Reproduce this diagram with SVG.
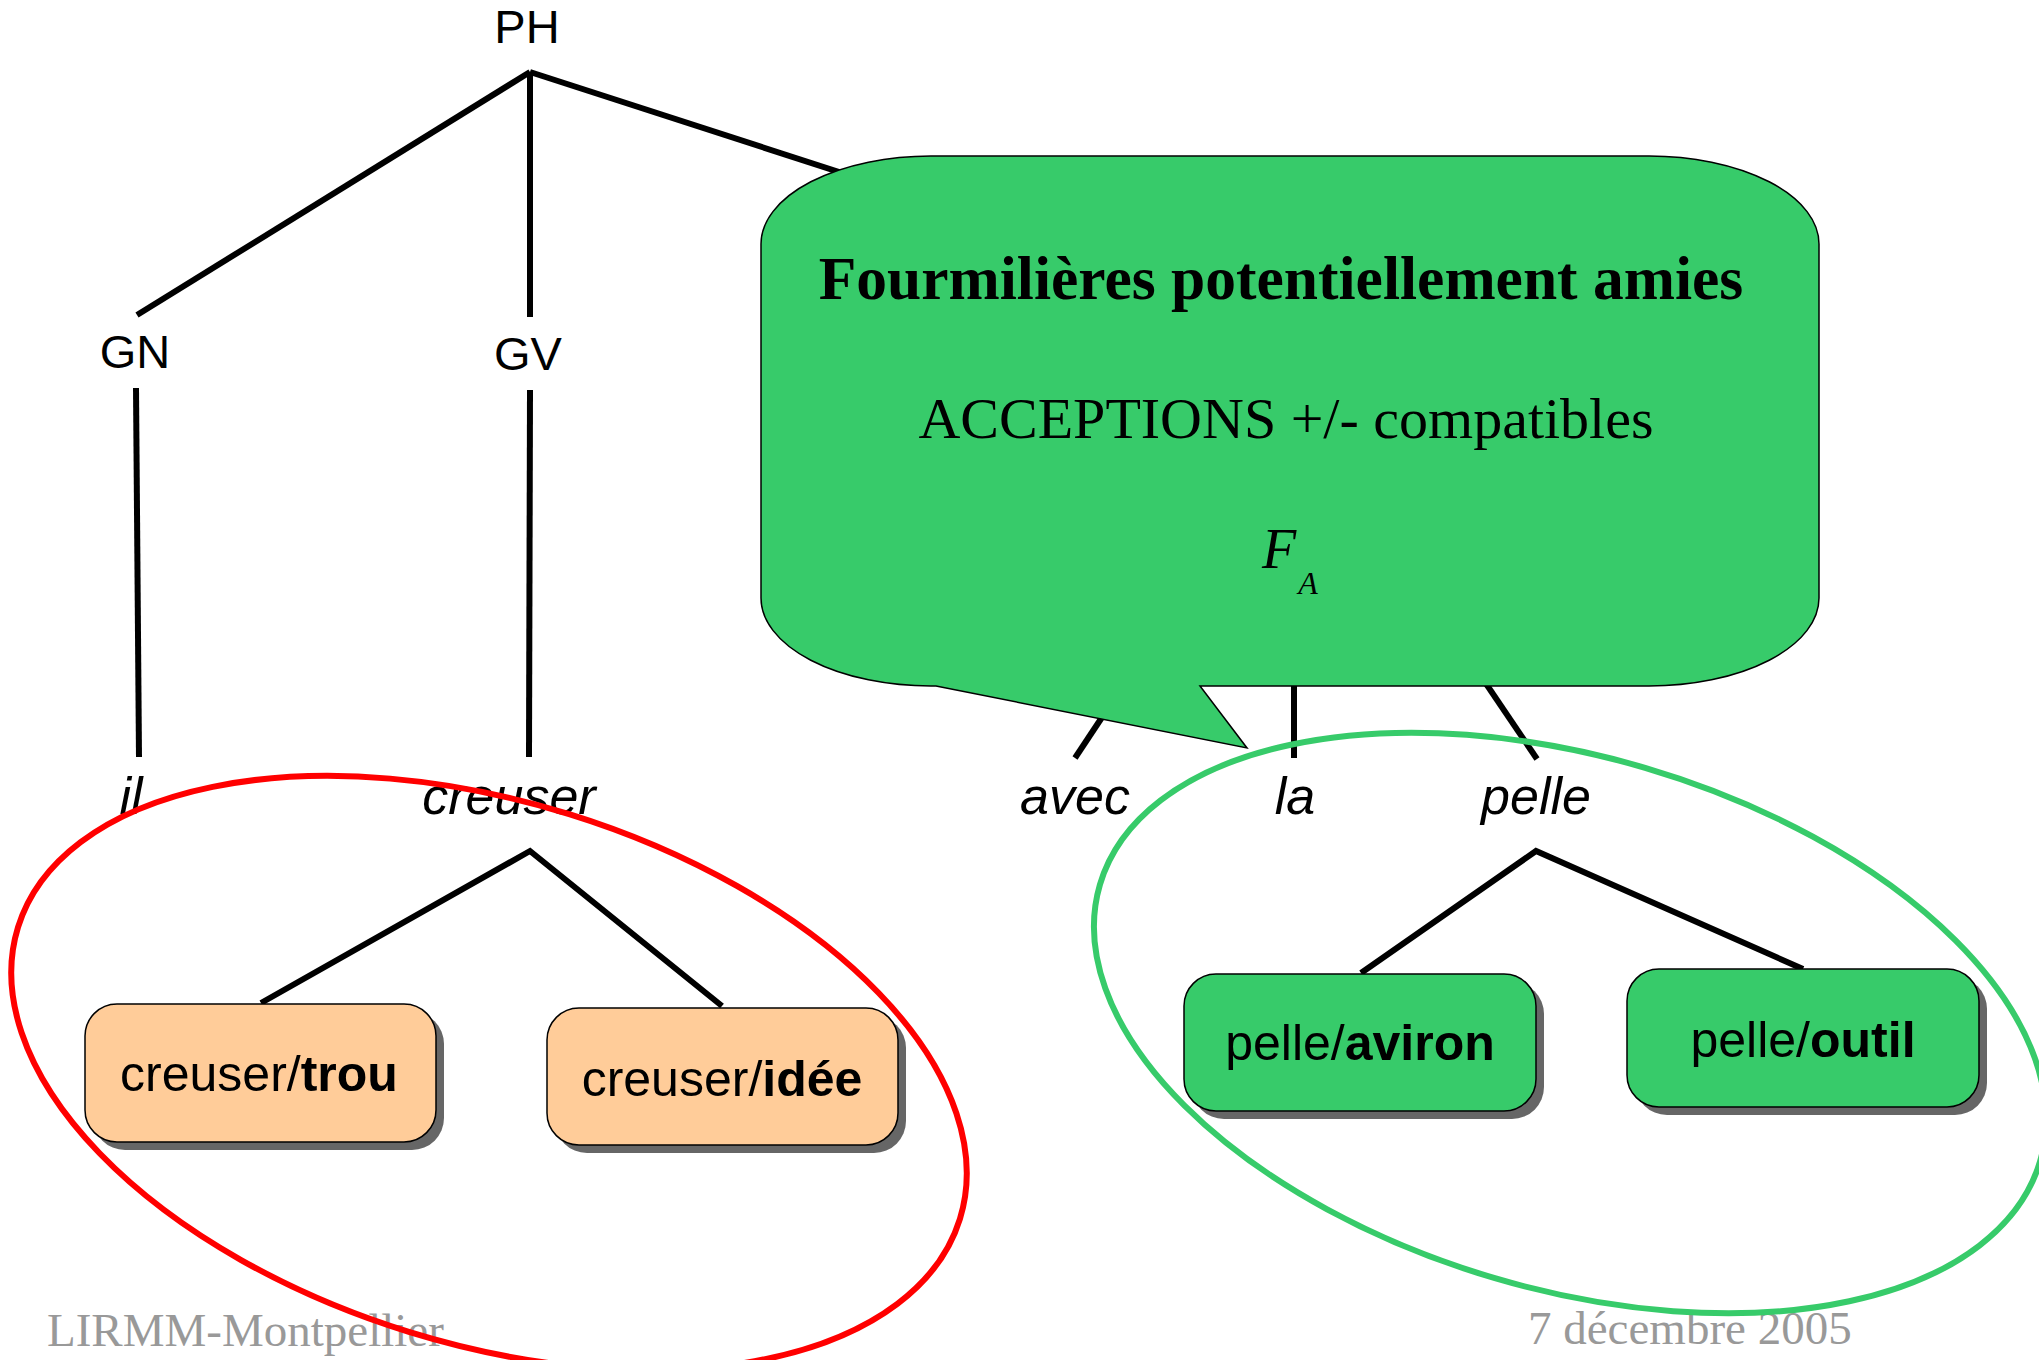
<svg xmlns="http://www.w3.org/2000/svg" width="2039" height="1360" viewBox="0 0 2039 1360">
<style>
.lbl{font-family:"Liberation Sans",Arial,sans-serif;font-size:47px;fill:#000;text-anchor:middle}
.word{font-family:"Liberation Sans",Arial,sans-serif;font-size:52px;font-style:italic;fill:#000;text-anchor:middle}
.box{font-family:"Liberation Sans",Arial,sans-serif;font-size:50px;fill:#000;text-anchor:middle}
.edge{stroke:#000;stroke-width:6;fill:none}
.foot{font-family:"Liberation Serif","Times New Roman",serif;font-size:47px;fill:#999}
.ser{font-family:"Liberation Serif","Times New Roman",serif;fill:#000;text-anchor:middle}
.shadow{fill:#666}
.node{stroke:#000;stroke-width:1.5}
</style>
<rect width="2039" height="1360" fill="#fff"/>
<g id="footer">
<text class="foot" x="47" y="1346">LIRMM-Montpellier</text>
<text class="foot" x="1528" y="1344">7 décembre 2005</text>
</g>
<g id="connectors">
<line class="edge" x1="530" y1="72" x2="137" y2="315"/>
<line class="edge" x1="530" y1="72" x2="530" y2="317"/>
<line class="edge" x1="530" y1="72" x2="1000" y2="224"/>
<line class="edge" x1="136" y1="388" x2="139" y2="757"/>
<line class="edge" x1="530" y1="390" x2="529" y2="757"/>
<line class="edge" x1="1140" y1="660" x2="1075" y2="758"/>
<line class="edge" x1="1294" y1="660" x2="1294" y2="758"/>
<line class="edge" x1="1470" y1="660" x2="1537" y2="759"/>
<polyline class="edge" points="261,1003 530,851 722,1006"/>
<polyline class="edge" points="1361,973 1536,851 1803,969"/>
</g>
<g id="n-PH"><text class="lbl" x="527" y="43">PH</text></g>
<g id="n-GN"><text class="lbl" x="135" y="368">GN</text></g>
<g id="n-GV"><text class="lbl" x="528" y="370">GV</text></g>
<g id="n-il"><text class="word" x="131" y="814">il</text></g>
<g id="n-creuser"><text class="word" x="509" y="814">creuser</text></g>
<g id="n-avec"><text class="word" x="1075" y="814">avec</text></g>
<g id="n-la"><text class="word" x="1295" y="814">la</text></g>
<g id="n-pelle"><text class="word" x="1536" y="814">pelle</text></g>
<g id="bubble">
<path d="M931,156 H1649 A170 88 0 0 1 1819,244 V598 A170 88 0 0 1 1649,686 H1200 L1247,748 L936,686 H931 A170 88 0 0 1 761,598 V244 A170 88 0 0 1 931,156 Z" fill="#37cb6a" stroke="#000" stroke-width="1.5"/>
<text class="ser" x="1281" y="299" font-size="61.5" font-weight="bold">Fourmilières potentiellement amies</text>
<text class="ser" x="1286" y="438" font-size="58">ACCEPTIONS +/- compatibles</text>
<text class="ser" x="1279" y="568" font-size="56" font-style="italic" text-anchor="start">F</text>
<text class="ser" x="1308" y="594" font-size="32" font-style="italic" text-anchor="start">A</text>
</g>
<g id="n-creuser-trou">
<rect class="shadow" x="93" y="1012" width="351" height="138" rx="32" ry="32"/>
<rect class="node" x="85" y="1004" width="351" height="138" rx="32" ry="32" fill="#ffcc99"/>
<text class="box" x="259" y="1091">creuser/<tspan font-weight="bold">trou</tspan></text>
</g>
<g id="n-creuser-idee">
<rect class="shadow" x="555" y="1016" width="351" height="137" rx="32" ry="32"/>
<rect class="node" x="547" y="1008" width="351" height="137" rx="32" ry="32" fill="#ffcc99"/>
<text class="box" x="722" y="1096">creuser/<tspan font-weight="bold">idée</tspan></text>
</g>
<g id="n-pelle-aviron">
<rect class="shadow" x="1192" y="982" width="352" height="137" rx="32" ry="32"/>
<rect class="node" x="1184" y="974" width="352" height="137" rx="32" ry="32" fill="#37cb6a"/>
<text class="box" x="1360" y="1060">pelle/<tspan font-weight="bold">aviron</tspan></text>
</g>
<g id="n-pelle-outil">
<rect class="shadow" x="1635" y="977" width="352" height="138" rx="32" ry="32"/>
<rect class="node" x="1627" y="969" width="352" height="138" rx="32" ry="32" fill="#37cb6a"/>
<text class="box" x="1803" y="1057">pelle/<tspan font-weight="bold">outil</tspan></text>
</g>
<g id="groups">
<ellipse cx="489" cy="1073" rx="493" ry="271" transform="rotate(17.2 489 1073)" fill="none" stroke="#ff0000" stroke-width="6"/>
<ellipse cx="1570" cy="1023" rx="490" ry="266" transform="rotate(16.4 1570 1023)" fill="none" stroke="#37cb6a" stroke-width="6"/>
</g>
</svg>
